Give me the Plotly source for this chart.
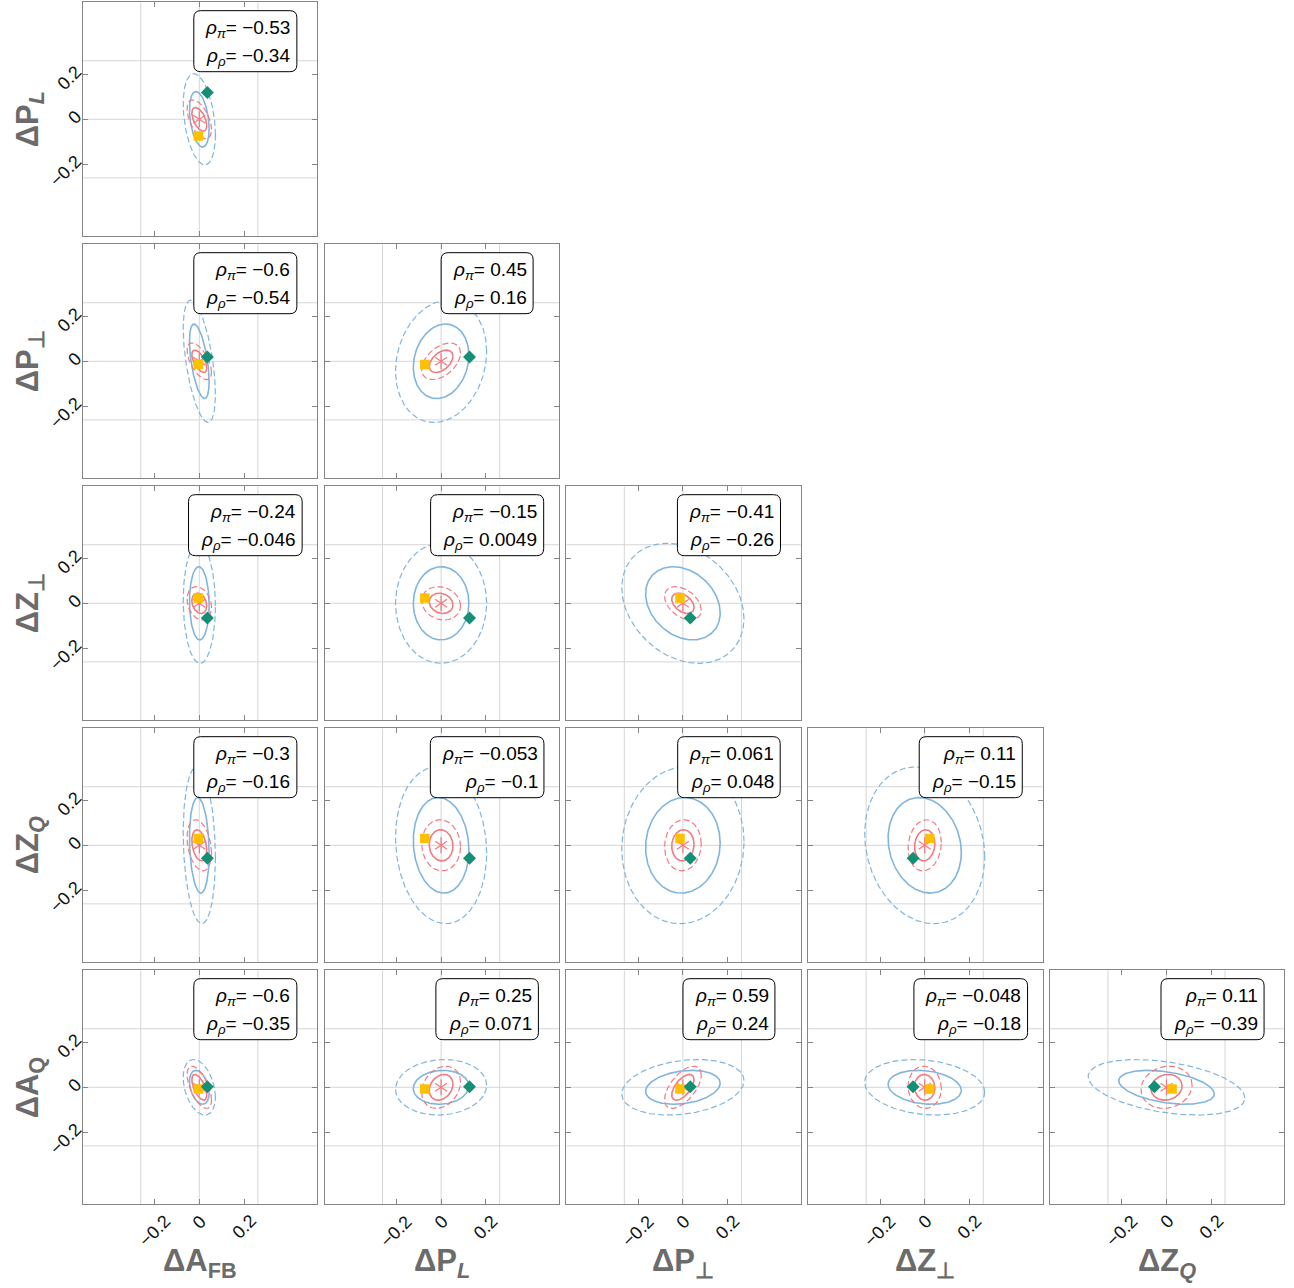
import numpy as np
import plotly.graph_objects as go

# ---------------- data ----------------
col_vars = ["A_FB", "P_L", "P_perp", "Z_perp", "Z_Q"]
row_vars = ["P_L", "P_perp", "Z_perp", "Z_Q", "A_Q"]

col_titles = ["<b>ΔA<sub>FB</sub></b>", "<b>ΔP<sub><i>L</i></sub></b>", "<b>ΔP<sub>⊥</sub></b>",
              "<b>ΔZ<sub>⊥</sub></b>", "<b>ΔZ<sub><i>Q</i></sub></b>"]
row_titles = ["<b>ΔP<sub><i>L</i></sub></b>", "<b>ΔP<sub>⊥</sub></b>", "<b>ΔZ<sub>⊥</sub></b>",
              "<b>ΔZ<sub><i>Q</i></sub></b>", "<b>ΔA<sub>Q</sub></b>"]

# 1-sigma widths per observable (pi channel = red, rho channel = blue)
sigma_pi = {"A_FB": 0.022, "P_L": 0.035, "P_perp": 0.033, "Z_perp": 0.030, "Z_Q": 0.046, "A_Q": 0.038}
sigma_rho = {"A_FB": 0.029, "P_L": 0.082, "P_perp": 0.110, "Z_perp": 0.108, "Z_Q": 0.141, "A_Q": 0.050}

# correlations, rows x cols (lower triangle)
corr_pi = [[-0.53],
           [-0.6, 0.45],
           [-0.24, -0.15, -0.41],
           [-0.3, -0.053, 0.061, 0.11],
           [-0.6, 0.25, 0.59, -0.048, 0.11]]
corr_rho = [[-0.34],
            [-0.54, 0.16],
            [-0.046, 0.0049, -0.26],
            [-0.16, -0.1, 0.048, -0.15],
            [-0.35, 0.071, 0.24, -0.18, -0.39]]

# benchmark points (value when observable is on the horizontal / vertical axis)
green_on_x = {"A_FB": 0.036, "P_L": 0.127, "P_perp": 0.033, "Z_perp": -0.052, "Z_Q": -0.054}
green_on_y = {"P_L": 0.120, "P_perp": 0.019, "Z_perp": -0.066, "Z_Q": -0.058, "A_Q": 0.003}
yellow_on_x = {"A_FB": -0.004, "P_L": -0.073, "P_perp": -0.013, "Z_perp": 0.022, "Z_Q": 0.025}
yellow_on_y = {"P_L": -0.075, "P_perp": -0.014, "Z_perp": 0.024, "Z_Q": 0.030, "A_Q": -0.008}
central_value = 0.0

tick_vals = [-0.2, 0.0, 0.2]
tick_text = ["−0.2", "0", "0.2"]
grid_vals = [-0.262, 0.0, 0.262]

# confidence levels: 68.3% and 95.4% for 2 dof
k_levels = [np.sqrt(2.30), np.sqrt(6.18)]

# ---------------- style / layout ----------------
W, H = 1294, 1288
PX = 223.5                      # pixels per data unit
col_left = [82.7 + 241.8 * c for c in range(5)]
row_top = [2.3 + 242.0 * r for r in range(5)]
PW, PH = 234.5, 234.0
XR = [-116.6 / PX, (PW - 116.6) / PX]
YR = [-117.0 / PX, 117.0 / PX]

PINK = "#F27B80"
BLUE = "#80B5DE"
GREEN = "#148F76"
YELLOW = "#FFC000"
GRID = "#D6D6D6"
FRAME = "#858585"
FONT = "Liberation Sans, Arial, sans-serif"
TICKFONT = dict(family=FONT, size=18, color="#111111")

fig = go.Figure()
layout = dict(width=W, height=H, margin=dict(l=0, r=0, t=0, b=0),
              paper_bgcolor="white", plot_bgcolor="white", showlegend=False)
shapes, annotations = [], []


def ellipse(sx, sy, rho, k):
    t = np.linspace(0, 2 * np.pi, 241)
    x = k * sx * np.cos(t)
    y = k * sy * (rho * np.cos(t) + np.sqrt(1 - rho ** 2) * np.sin(t))
    return x, y


def fmt(v):
    return str(v).replace("-", "−")


def text_px(s):
    w = 44.0
    for ch in s:
        if ch.isdigit():
            w += 10.56
        elif ch == ".":
            w += 5.28
        elif ch == "−":
            w += 11.1
    return w


idx = 0
for r in range(5):
    for c in range(r + 1):
        idx += 1
        xa, ya = f"x{idx}", f"y{idx}"
        xk, yk = f"xaxis{idx}", f"yaxis{idx}"
        vx, vy = col_vars[c], row_vars[r]
        x0 = col_left[c] / W
        x1 = (col_left[c] + PW) / W
        y1 = 1 - row_top[r] / H
        y0 = 1 - (row_top[r] + PH) / H
        common = dict(showline=True, mirror="ticks", linecolor=FRAME, linewidth=1,
                      ticks="inside", ticklen=5, tickcolor=FRAME, tickwidth=1,
                      tickmode="array", tickvals=tick_vals, ticktext=tick_text,
                      tickangle=-45, tickfont=TICKFONT,
                      showgrid=False, zeroline=False, fixedrange=True)
        layout[xk] = dict(common, domain=[x0, x1], range=XR, anchor=ya, showticklabels=False)
        layout[yk] = dict(common, domain=[y0, y1], range=YR, anchor=xa,
                          showticklabels=(c == 0), ticklabelshift=-5, ticklabelstandoff=2)

        # x tick labels of the bottom row: rotated, centred on their ticks
        if r == 4:
            for tv, tt in zip(tick_vals, tick_text):
                annotations.append(dict(xref=xa, yref="paper", x=tv, y=y0 - 4.0 / H,
                                        xanchor="center", yanchor="top", showarrow=False,
                                        textangle=-45, text=tt, font=TICKFONT))

        for g in grid_vals:
            shapes.append(dict(type="line", xref=xa, yref=ya, x0=g, x1=g, y0=YR[0], y1=YR[1],
                               line=dict(color=GRID, width=1), layer="below"))
            shapes.append(dict(type="line", xref=xa, yref=ya, y0=g, y1=g, x0=XR[0], x1=XR[1],
                               line=dict(color=GRID, width=1), layer="below"))

        # ellipses: blue (rho) first, pink (pi) on top
        for sig, corr, col in ((sigma_rho, corr_rho, BLUE), (sigma_pi, corr_pi, PINK)):
            for k, dash, lw in ((k_levels[0], "solid", 1.6), (k_levels[1], "6px,3px", 1.2)):
                ex, ey = ellipse(sig[vx], sig[vy], corr[r][c], k)
                fig.add_trace(go.Scatter(x=ex, y=ey, mode="lines", xaxis=xa, yaxis=ya,
                                         line=dict(color=col, width=lw, dash=dash),
                                         hoverinfo="skip"))

        fig.add_trace(go.Scatter(x=[central_value, central_value], y=[central_value, central_value],
                                 mode="markers", xaxis=xa, yaxis=ya,
                                 marker=dict(symbol=["y-up-open", "y-down-open"], size=10,
                                             line=dict(color=PINK, width=1.3), color=PINK)))
        fig.add_trace(go.Scatter(x=[yellow_on_x[vx]], y=[yellow_on_y[vy]], mode="markers",
                                 xaxis=xa, yaxis=ya,
                                 marker=dict(symbol="square", size=9.5, color=YELLOW)))
        fig.add_trace(go.Scatter(x=[green_on_x[vx]], y=[green_on_y[vy]], mode="markers",
                                 xaxis=xa, yaxis=ya,
                                 marker=dict(symbol="diamond", size=10, color=GREEN)))

        # correlation box
        t1 = fmt(corr_pi[r][c])
        t2 = fmt(corr_rho[r][c])
        wpx = max(text_px(t1), text_px(t2)) + 11.0
        cx = 0.206
        bx0, bx1 = cx - wpx / 2 / PX, cx + wpx / 2 / PX
        by0, by1 = 0.213, 0.486
        rr = 7.0 / PX
        path = (f"M {bx0+rr},{by1} L {bx1-rr},{by1} Q {bx1},{by1} {bx1},{by1-rr} "
                f"L {bx1},{by0+rr} Q {bx1},{by0} {bx1-rr},{by0} L {bx0+rr},{by0} "
                f"Q {bx0},{by0} {bx0},{by0+rr} L {bx0},{by1-rr} Q {bx0},{by1} {bx0+rr},{by1} Z")
        shapes.append(dict(type="path", path=path, xref=xa, yref=ya,
                           line=dict(color="black", width=1), fillcolor="white", layer="above"))
        tx = bx1 - 4.4 / PX
        for yy, sub, val in ((0.404, "π", t1), (0.277, "ρ", t2)):
            annotations.append(dict(xref=xa, yref=ya, x=tx, y=yy, xanchor="right", yanchor="middle",
                                    showarrow=False,
                                    text=f"<i>ρ</i><sub><i>{sub}</i></sub>= {val}",
                                    font=dict(family=FONT, size=19, color="black")))

# axis titles
for c in range(5):
    annotations.append(dict(xref="paper", yref="paper",
                            x=(col_left[c] + 117.0) / W, y=1 - 1263 / H,
                            xanchor="center", yanchor="middle", showarrow=False,
                            text=col_titles[c], font=dict(family=FONT, size=31, color="#6b6b6b")))
for r in range(5):
    annotations.append(dict(xref="paper", yref="paper",
                            x=30 / W, y=1 - (row_top[r] + 117.0) / H,
                            xanchor="center", yanchor="middle", showarrow=False, textangle=-90,
                            text=row_titles[r], font=dict(family=FONT, size=31, color="#6b6b6b")))

layout["shapes"] = shapes
layout["annotations"] = annotations
fig.update_layout(**layout)
fig.write_html("out.html", config={"displayModeBar": False},
               post_script="document.body.style.margin='0';document.body.style.overflow='hidden';")
